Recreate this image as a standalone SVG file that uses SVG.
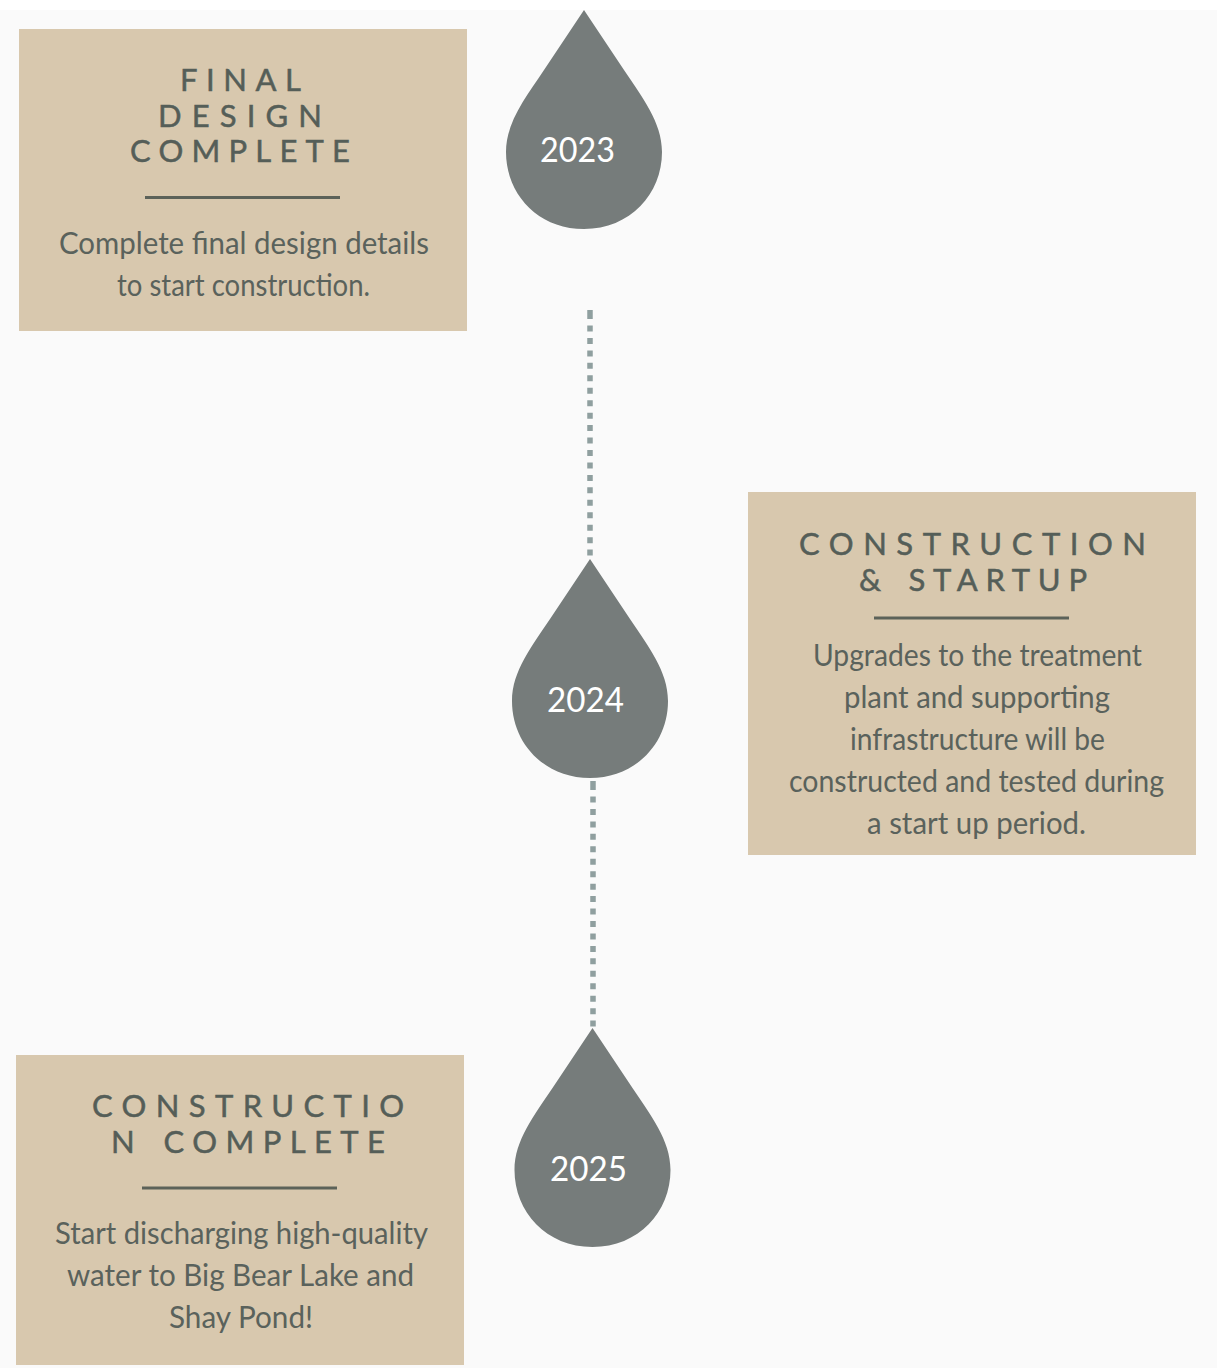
<svg xmlns="http://www.w3.org/2000/svg" width="1217" height="1368" viewBox="0 0 1217 1368">
<style>
.box{fill:#d8c8ae}
.rule{stroke:#5c6259;stroke-width:3;fill:none}
.drop{fill:#767c7b}
.link{stroke:#8f9f9f;stroke-width:5.500;stroke-dasharray:6 6.450;fill:none}
.stub{stroke:#8f9f9f;stroke-width:5.500;fill:none}
text{font-family:"Lato","Liberation Sans",sans-serif}
.title{font-size:31px;fill:#555e58;stroke:#555e58;stroke-width:.5px;word-spacing:4px}
.body{font-size:30px;fill:#5a625c}
.year{font-size:34px;fill:#ffffff}
</style>
<defs>
<path id="drop-shape" d="M0 0L40 60C58 87 78 112 78 142C78 184 46 219 0 219C-46 219 -78 184 -78 142C-78 112 -58 87 -40 60Z"/>
</defs>
<rect width="1217" height="1368" fill="#ffffff"/>
<rect y="10" width="1217" height="1358" fill="#fafafa"/>
<g id="connectors">
<path class="stub" d="M590 310V319"/>
<path class="link" d="M590 325.500V559"/>
<path class="stub" d="M593 781V790"/>
<path class="link" d="M593 796.500V1030"/>
</g>
<g id="drop-2023">
<use href="#drop-shape" class="drop" x="584" y="10"/>
<text class="year" x="540" y="161.500" textLength="75" lengthAdjust="spacingAndGlyphs">2023</text>
</g>
<g id="drop-2024">
<use href="#drop-shape" class="drop" x="590" y="559"/>
<text class="year" x="547" y="711.500" textLength="77" lengthAdjust="spacingAndGlyphs">2024</text>
</g>
<g id="drop-2025">
<use href="#drop-shape" class="drop" x="592.500" y="1028"/>
<text class="year" x="550" y="1180.500" textLength="77" lengthAdjust="spacingAndGlyphs">2025</text>
</g>
<g id="card-final-design">
<rect class="box" x="19" y="29" width="448" height="302"/>
<text class="title" x="180" y="91" textLength="121" lengthAdjust="spacing">FINAL</text>
<text class="title" x="158" y="127" textLength="164" lengthAdjust="spacing">DESIGN</text>
<text class="title" x="130" y="162" textLength="220" lengthAdjust="spacing">COMPLETE</text>
<path class="rule" d="M145 197.500H340"/>
<text class="body" x="59" y="254" textLength="370" lengthAdjust="spacingAndGlyphs">Complete final design details</text>
<text class="body" x="117" y="296" textLength="253" lengthAdjust="spacingAndGlyphs">to start construction.</text>
</g>
<g id="card-construction-startup">
<rect class="box" x="748" y="492" width="448" height="363"/>
<text class="title" x="799" y="555" textLength="347" lengthAdjust="spacing">CONSTRUCTION</text>
<text class="title" x="859" y="590.500" textLength="228" lengthAdjust="spacing">&amp; STARTUP</text>
<path class="rule" d="M874 618H1069"/>
<text class="body" x="813" y="666" textLength="329" lengthAdjust="spacingAndGlyphs">Upgrades to the treatment</text>
<text class="body" x="844" y="708" textLength="266" lengthAdjust="spacingAndGlyphs">plant and supporting</text>
<text class="body" x="850" y="750" textLength="255" lengthAdjust="spacingAndGlyphs">infrastructure will be</text>
<text class="body" x="789" y="792" textLength="375" lengthAdjust="spacingAndGlyphs">constructed and tested during</text>
<text class="body" x="867" y="834" textLength="219" lengthAdjust="spacingAndGlyphs">a start up period.</text>
</g>
<g id="card-construction-complete">
<rect class="box" x="16" y="1055" width="448" height="310"/>
<text class="title" x="92" y="1117" textLength="312" lengthAdjust="spacing">CONSTRUCTIO</text>
<text class="title" x="111" y="1152.500" textLength="274" lengthAdjust="spacing">N COMPLETE</text>
<path class="rule" d="M142 1188H337"/>
<text class="body" x="55" y="1244" textLength="373" lengthAdjust="spacingAndGlyphs">Start discharging high-quality</text>
<text class="body" x="67" y="1286" textLength="347" lengthAdjust="spacingAndGlyphs">water to Big Bear Lake and</text>
<text class="body" x="169" y="1328" textLength="144" lengthAdjust="spacingAndGlyphs">Shay Pond!</text>
</g>
</svg>
